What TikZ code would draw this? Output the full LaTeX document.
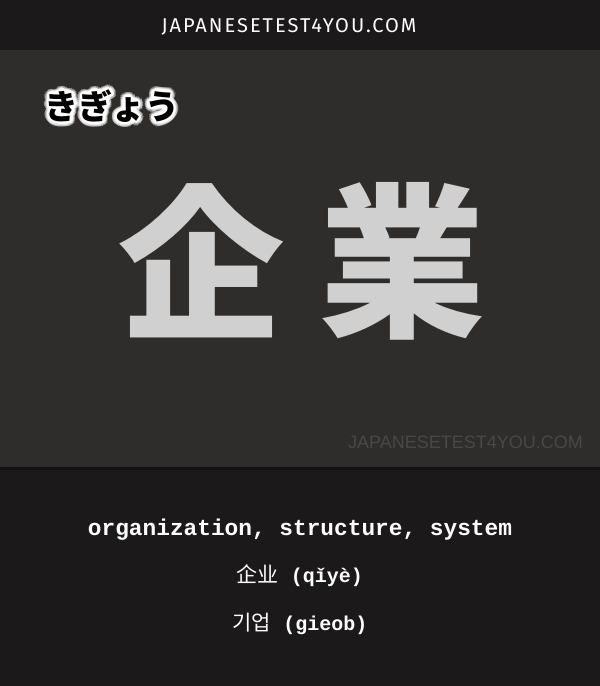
\documentclass[tikz,border=0pt]{standalone}
\usepackage{fontspec}
\setmainfont{Liberation Sans}
\newfontfamily\jpfont{Noto Sans CJK JP}
\newfontfamily\zhfont{Noto Sans CJK SC}
\newfontfamily\krfont{Noto Sans CJK KR}
\newfontfamily\monofont{Liberation Mono}
\newfontfamily\topfont{Fira Sans}[LetterSpace=10]
\definecolor{barcol}{HTML}{1B1919}
\definecolor{panelcol}{HTML}{2F2C2C}
\definecolor{markcol}{HTML}{4B4747}
\definecolor{kanjicol}{HTML}{D0D0D0}
\tikzset{
  plain/.style={inner sep=0pt, outer sep=0pt},
  kana/.style={plain, font=\jpfont\bfseries\fontsize{34}{34}\selectfont},
  kanji/.style={plain, text=kanjicol, font=\jpfont\bfseries\fontsize{166}{166}\selectfont},
  mono/.style={plain, text=white, anchor=base},
}
\begin{document}
\begin{tikzpicture}[x=1pt,y=-1pt]
\fill[barcol] (0,0) rectangle (600,50);
\fill[panelcol] (0,50) rectangle (600,467);
\fill[barcol] (0,467) rectangle (600,686);
\fill[black!30!barcol] (0,467) rectangle (600,470);
\useasboundingbox (0,0) rectangle (600,686);

\node[plain, anchor=base, text=white, font=\topfont\fontsize{20}{20}\selectfont] (site) at (289,32) {JAPANESETEST4YOU.COM};

% kana with white glow
\foreach \a in {0,20,...,340}{
  \node[kana, text=white, opacity=0.4] (glowa\a) at ([shift={(\a:5pt)}]112,106) {きぎょう};
}
\foreach \a in {0,30,...,330}{
  \node[kana, text=white] (glowb\a) at ([shift={(\a:2.5pt)}]112,106) {きぎょう};
}
\node[kana, text=black] (kana) at (112,106) {きぎょう};

\node[kanji] (k1) at (201,261) {企};
\node[kanji] (k2) at (402,261) {業};

\node[plain, anchor=base, text=markcol, font=\fontsize{18}{18}\selectfont] (mark) at (465.5,448) {JAPANESETEST4YOU.COM};

\node[mono, font=\monofont\bfseries\fontsize{22.8}{22.8}\selectfont] (l1) at (300,535) {organization, structure, system};
\node[mono, font=\monofont\bfseries\fontsize{20}{20}\selectfont] (l2) at (300,582) {{\zhfont\mdseries\fontsize{21}{21}\selectfont 企业} (qǐyè)};
\node[mono, font=\monofont\bfseries\fontsize{20}{20}\selectfont] (l3) at (300,630) {{\krfont\mdseries\fontsize{21}{21}\selectfont 기업} (gieob)};
\end{tikzpicture}
\end{document}
